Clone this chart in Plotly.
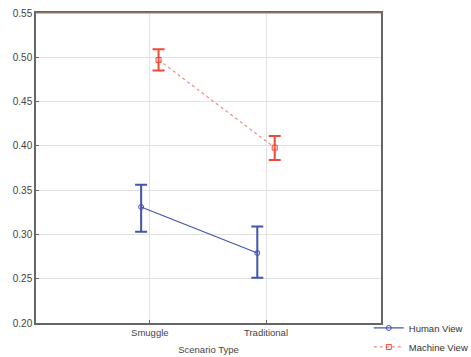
import plotly.graph_objects as go

categories = ["Smuggle", "Traditional"]
human_mean = [0.331, 0.279]
human_upper = [0.356, 0.309]
human_lower = [0.303, 0.251]
machine_mean = [0.497, 0.398]
machine_upper = [0.509, 0.411]
machine_lower = [0.485, 0.384]
y_ticks = [0.20, 0.25, 0.30, 0.35, 0.40, 0.45, 0.50, 0.55]

BLUE = "#4254b0"
RED = "#ef4a36"

def xs(offset):
    return [i + offset for i in range(len(categories))]

fig = go.Figure()
fig.add_trace(go.Scatter(
    x=xs(-0.075), y=human_mean, name="Human View", mode="lines+markers",
    line=dict(color=BLUE, width=1.2),
    marker=dict(symbol="circle-open", size=5, color=BLUE, line=dict(width=1)),
    error_y=dict(type="data", symmetric=False,
                 array=[u - m for u, m in zip(human_upper, human_mean)],
                 arrayminus=[m - l for m, l in zip(human_mean, human_lower)],
                 color=BLUE, thickness=2, width=6),
))
fig.add_trace(go.Scatter(
    x=xs(0.075), y=machine_mean, name="Machine View", mode="lines+markers",
    line=dict(color="#f28a80", width=1.2, dash="dot"),
    marker=dict(symbol="square-open", size=5, color=RED, line=dict(width=1)),
    error_y=dict(type="data", symmetric=False,
                 array=[u - m for u, m in zip(machine_upper, machine_mean)],
                 arrayminus=[m - l for m, l in zip(machine_mean, machine_lower)],
                 color=RED, thickness=2, width=6),
))

fig.update_layout(
    width=471, height=357,
    margin=dict(l=36, r=90, t=13, b=34, autoexpand=False),
    paper_bgcolor="white", plot_bgcolor="white",
    font=dict(family="Liberation Sans, Arial", size=9.5, color="#444"),
    showlegend=True,
    legend=dict(xref="container", yref="container", x=0.783, y=0.122,
                xanchor="left", yanchor="top",
                font=dict(size=9.5, color="#333"), tracegroupgap=0,
                itemwidth=30, bgcolor="rgba(0,0,0,0)"),
    xaxis=dict(range=[-0.98, 1.99], tickmode="array",
               tickvals=list(range(len(categories))), ticktext=categories,
               showgrid=True, gridcolor="#e2e2e2", gridwidth=1,
               showline=True, linecolor="#666", linewidth=1.5, mirror=True,
               ticks="inside", ticklen=3, tickcolor="#666",
               tickfont=dict(size=9.5, color="#444"),
               title=dict(text="Scenario Type", font=dict(size=9.5, color="#444"), standoff=9),
               zeroline=False),
    yaxis=dict(range=[0.20, 0.55], tickmode="array", tickvals=y_ticks,
               ticktext=[f"{v:.2f}" for v in y_ticks],
               showgrid=True, gridcolor="#e2e2e2", gridwidth=1,
               showline=True, linecolor="#666", linewidth=1.5, mirror=True,
               ticks="inside", ticklen=3, tickcolor="#666",
               tickfont=dict(size=10, color="#444"),
               zeroline=False),
)
fig.add_shape(type="line", xref="paper", yref="paper", x0=0, x1=1, y0=1, y1=1,
              line=dict(color="#a8786a", width=1.2))

fig.write_html("out.html")
